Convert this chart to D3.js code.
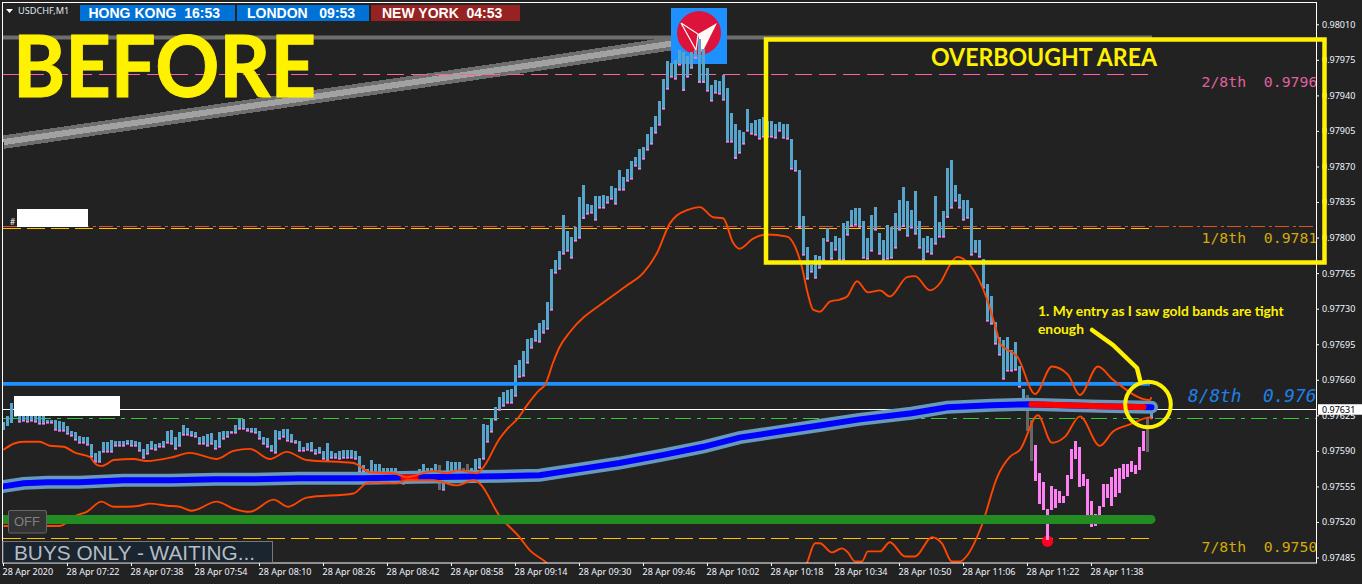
<!DOCTYPE html>
<html lang="en">
<head>
<meta charset="UTF-8" />
<title>USDCHF M1 - Before</title>
<script src="https://cdn.jsdelivr.net/npm/d3@7"></script>
<style>
  html, body { margin: 0; padding: 0; background: #222222; overflow: hidden; }
  svg { display: block; }
  .axis path { display: none; }
  .axis line { stroke: #ffffff; }
  .axis text { fill: #f0f4ff; font-family: "Noto Sans", sans-serif; font-size: 9px; }
</style>
</head>
<body>
<svg id="chart" width="1362" height="584"></svg>
<script>
// all prices below are in points above 0.97000 (631 = 0.97631), one bar per minute from 07:06
var barHigh = [
  618,624,637,632,630,630,630,628,628,627,627,620,620,620,619,618,614,610,609,605,604,604,597,588,590,599,599,601,600,600,
  600,601,601,600,599,592,597,600,597,598,600,610,611,604,609,615,613,610,609,604,605,607,608,601,609,610,610,610,615,621,
  621,613,613,613,610,604,603,596,611,610,612,612,607,601,600,594,598,599,592,594,590,598,590,588,590,591,591,591,590,585,
  576,572,581,577,577,573,573,573,573,567,563,561,566,569,572,577,573,573,577,576,561,580,579,579,579,573,577,573,582,583,
  616,615,621,633,643,648,650,651,675,679,688,700,701,709,716,719,737,769,778,787,822,806,801,810,840,852,833,832,841,841,
  842,841,851,849,867,860,868,875,879,887,889,902,909,920,934,956,974,972,975,985,983,979,983,985,996,986,967,950,955,954,
  960,947,923,912,906,904,927,913,916,917,919,915,915,912,914,912,912,897,876,867,821,791,773,783,782,800,809,796,802,800,
  814,816,827,829,829,816,800,822,830,805,798,812,810,824,837,850,836,827,846,816,800,802,800,841,815,826,869,876,852,843,
  837,837,829,798,798,779,754,742,717,702,699,702,689,697,674,651,645,620,596,568,559,533,555,552,550,546,566,592,600,594,
  567,562,541,528,536,557,557,564,572,573,577,577,580,576,594,610,623,628
];
var barLow = [
  610,614,617,623,618,619,618,619,618,616,616,617,617,611,610,610,607,605,601,598,598,596,584,579,579,589,589,589,595,595,
  595,597,595,595,590,583,587,592,591,594,594,598,597,592,595,606,606,605,604,597,597,595,597,592,594,602,604,608,608,612,
  612,610,609,608,602,597,594,590,588,602,604,600,599,598,590,590,591,590,587,588,582,580,583,583,582,583,583,583,582,569,
  569,568,569,568,568,568,568,568,568,561,556,557,559,563,569,569,569,569,567,551,551,568,569,569,569,569,569,569,569,573,
  582,599,609,620,630,634,637,637,644,663,664,677,691,698,697,706,710,729,765,769,784,787,780,797,800,819,823,824,817,829,
  829,834,838,833,847,847,856,858,870,868,877,886,892,903,911,927,946,958,956,970,945,958,967,977,953,953,944,934,942,941,
  935,894,894,878,883,892,905,902,901,897,899,899,899,898,905,898,897,868,866,810,783,759,766,760,770,778,797,779,788,778,
  778,803,811,812,810,780,779,787,807,784,778,779,780,790,807,811,802,809,804,790,778,786,784,794,801,801,820,829,836,829,
  817,819,783,786,781,750,718,715,695,684,661,669,669,670,653,640,610,580,561,537,531,502,531,533,538,539,545,562,582,555,
  555,526,515,516,526,534,543,535,544,548,562,564,569,567,571,590,589,622
];
var greyBars = [100, 101, 102, 109, 115, 116, 256, 257, 286];
var pinkFrom = 258, pinkTo = 285;

var upperIdx = [0,2.5,5,9,11.6,15,18,21.6,23,24.5,25.8,27.5,32.5,35.8,42.5,46.6,53.3,57.5,61.6,66.6,70.8,75.8,87.5,91.6,97.5,100.8,107.5,110.8,113.7,118.3,120,124,125.8,128.6,130.9,134,135.4,137.4,139,141.6,151,155.9,159.9,163.4,166.6,168.4,170.9,174.1,177.4,179.9,182.4,184,187.4,190.9,195.9,197.9,199.6,201,202.4,204.1,206.6,209.1,210.9,213.4,216.1,219.1,221.6,225.9,227.9,231.6,234.1,236.6,238.4,241.6,245.9,248.4,249.1,253.6,257.9,262.1,266.1,269.1,273.6,277.4,286.6,287];
var upperVal = [591,597,599,599,595,594,588,584,577,575,577,581,582,580,584,588,582,590,592,582,589,581,578,569,568,564,570,568,571,568,574,602,611,622,635,650,655,677,692,707,739,753,765,785,814,822,827,830,820,819,795,789,799,803,801,791,771,746,729,727,737,739,742,757,746,748,742,761,762,748,755,773,781,773,739,706,696,682,646,673,665,645,673,660,640,643];
var lowerIdx = [0,14,18,20.8,24.5,27.5,30.8,34,36.6,40.8,44,47,53.3,57.5,61.6,67.5,71.2,75.8,87.5,90.8,93.3,98.3,100.8,107.5,113.3,117.5,119,124,129,131.6,135.4,139,194,200.9,202.9,204.1,207.1,209.6,211.1,212.9,214.6,216.1,219.1,221.6,225.4,227.9,232.1,234.6,237.1,239.1,241.1,244.6,248.4,251.6,254.1,258.6,262.1,265.4,269.1,274.1,277.4,281.6,286.6,287];
var lowerVal = [516,516,526,530,540,535,535,536,538,536,535,531,540,533,530,542,535,544,548,558,559,558,561,561,556,561,558,526,505,492,481,468,443,480,499,499,490,494,490,481,481,491,491,500,486,486,505,499,481,481,488,517,564,584,591,625,598,604,624,595,609,616,623,621];

var emaIdx = [0,5,11,19,30,42,53,63,74,90,103,124,134,144,154,165,175,184,194,204,214,227,236,247,256,274,287];
var emaVal = [555,558,559,559,561,561,562,562,563,563,564,565,566,572,578,586,594,603,609,615,621,627,633,635,636,634,633];
var redRuns = [[100, 103], [257, 285]];

var timeIdx = [0,16,32,48,64,80,96,112,128,144,160,176,192,208,224,240,256,272];
var timeLabels = ["28 Apr 2020","28 Apr 07:22","28 Apr 07:38","28 Apr 07:54","28 Apr 08:10","28 Apr 08:26","28 Apr 08:42","28 Apr 08:58","28 Apr 09:14","28 Apr 09:30","28 Apr 09:46","28 Apr 10:02","28 Apr 10:18","28 Apr 10:34","28 Apr 10:50","28 Apr 11:06","28 Apr 11:22","28 Apr 11:38"];
var priceTicks = [1010,975,940,905,870,835,800,765,730,695,660,625,590,555,520,485];

var trendIdx = [0,134,167];
var trendVal = [894,971,991];

var levelNames = ["2/8","1/8","7/8","green","white"];
var levelVals = [961,809,504,622,631];
var lastPrice = 631;
var blueLevel = 656, greenLevel = 522.5, greyLevel = 997, signalDot = [261, 502];

var width = 1362, height = 584;
var plot = {left: 3, top: 3, right: 1316, bottom: 563};

var x = d3.scaleLinear().domain([0, 100]).range([3.5, 403.5]);
var y = d3.scaleLinear().domain([485, 1010]).range([557.5, 24.3]);
var fmt = function(n) { return (0.97 + n / 100000).toFixed(5); };

var svg = d3.select("#chart");
svg.append("clipPath").attr("id", "plotclip").append("rect")
  .attr("x", plot.left).attr("y", plot.top)
  .attr("width", plot.right - plot.left).attr("height", plot.bottom - plot.top);

var g = svg.append("g").attr("clip-path", "url(#plotclip)");

function hline(val, from, to, color, w, dash) {
  // one pixel lines snap to the pixel grid so they stay sharp
  var py = w <= 1 ? Math.floor(y(val)) + 0.5 : y(val);
  return g.append("line")
    .attr("x1", from).attr("x2", to)
    .attr("y1", py).attr("y2", py)
    .attr("stroke", color).attr("stroke-width", w)
    .attr("stroke-dasharray", dash || null);
}

// grey trend lines, behind the logo
var lineFn = d3.line().x(function(d) { return x(d[0]); }).y(function(d) { return y(d[1]); });
var trend = d3.zip(trendIdx, trendVal);
hline(greyLevel, 3, 1152, "#6e6e6e", 4);
g.append("path").attr("d", lineFn(trend)).attr("fill", "none").attr("stroke", "#6e6e6e").attr("stroke-width", 13.5).attr("shape-rendering", "crispEdges");
g.append("path").attr("d", lineFn(trend)).attr("fill", "none").attr("stroke", "#a2a2a2").attr("stroke-width", 6).attr("shape-rendering", "crispEdges");

// logo
var logo = g.append("g");
logo.append("rect").attr("x", 671).attr("y", 8).attr("width", 56).attr("height", 56).attr("fill", "#1e90ff");
logo.append("circle").attr("cx", 699).attr("cy", 33).attr("r", 22).attr("fill", "#dc143c");
logo.append("polygon").attr("points", "717,23 702,53 698,34").attr("fill", "#fff8f4");
logo.append("polyline").attr("points", "681,23 698,34 696,50 681,23").attr("fill", "none").attr("stroke", "#fff8f4").attr("stroke-width", 1.2);

// thin level lines
hline(levelVals[0], 3, 1149, "#ff5fa8", 1, "17,7");
hline(levelVals[1], 3, 1149, "#ffc000", 1, "18,6");
hline(810.5, 3, 1316, "#e0521c", 1, "14,4,3,3");
hline(levelVals[2], 3, 1149, "#ffc000", 1, "18,6");
hline(levelVals[3], 3, 1316, "#32cd32", 1, "16,6,4,6");
hline(levelVals[4], 3, 1316, "#ffffff", 1);

// signal dot sits behind the bars
g.append("circle").attr("cx", x(signalDot[0])).attr("cy", y(signalDot[1]) + 1).attr("r", 5.7).attr("fill", "#ff0022");

// bars
var barData = d3.range(barHigh.length).map(function(i) { return {i: i, hi: barHigh[i], lo: barLow[i]}; });
function barColor(d) {
  if (greyBars.indexOf(d.i) >= 0) return "#666666";
  if (d.i >= pinkFrom && d.i <= pinkTo) return "#ff80f4";
  return "#57a5cd";
}
g.selectAll("rect.bar").data(barData).enter().append("rect")
  .attr("class", "bar")
  .attr("x", function(d) { return x(d.i) - 1.5; })
  .attr("width", 3)
  .attr("y", function(d) { return Math.round(y(d.hi)); })
  .attr("height", function(d) { return Math.max(1, Math.round(y(d.lo) - y(d.hi))); })
  .attr("fill", barColor);
// small pink tip under the blue bars
g.selectAll("rect.tip").data(barData.filter(function(d) { return barColor(d) == "#57a5cd" && d.i > 3; })).enter().append("rect")
  .attr("class", "tip")
  .attr("x", function(d) { return x(d.i) - 1.5; })
  .attr("width", 3)
  .attr("y", function(d) { return Math.round(y(d.lo)) - 1; })
  .attr("height", 1.6)
  .attr("fill", "#ff80f4");

hline(blueLevel, 3, 1150, "#1e90ff", 3.6);

// moving average tube
var ema = d3.zip(emaIdx, emaVal);
var lineStep = d3.line().x(function(d) { return x(d[0]); }).y(function(d) { return y(d[1]); });
g.append("path").attr("d", lineStep(ema)).attr("fill", "none").attr("stroke", "#6699bb").attr("stroke-width", 13).attr("stroke-linecap", "round");
g.append("path").attr("d", lineStep(ema)).attr("fill", "none").attr("stroke", "#0000ff").attr("stroke-width", 6).attr("stroke-linecap", "round");

var emaAt = d3.scaleLinear().domain(emaIdx).range(emaVal);
redRuns.forEach(function(r) {
  var pts = d3.range(r[0], r[1] + 1).map(function(i) { return [i, emaAt(i)]; });
  g.append("path").attr("d", lineStep(pts)).attr("fill", "none").attr("stroke", "#ff0000").attr("stroke-width", 6).attr("stroke-linecap", "round");
});

// gold bands (drawn orange)
var band = d3.line().x(function(d) { return x(d[0]); }).y(function(d) { return y(d[1]); }).curve(d3.curveMonotoneX);
g.append("path").attr("d", band(d3.zip(upperIdx, upperVal))).attr("fill", "none").attr("stroke", "#ff4500").attr("stroke-width", 1.9);
g.append("path").attr("d", band(d3.zip(lowerIdx, lowerVal))).attr("fill", "none").attr("stroke", "#ff4500").attr("stroke-width", 1.9);

hline(greenLevel, 3, 1151, "#228b22", 9).attr("stroke-linecap", "round");

// pasted over boxes
g.append("rect").attr("x", 17).attr("y", 209).attr("width", 71).attr("height", 18).attr("fill", "#fff");
g.append("rect").attr("x", 14).attr("y", 396).attr("width", 106).attr("height", 20).attr("fill", "#fff");
g.append("text").attr("x", 10).attr("y", 225).attr("fill", "#fff").attr("font-family", "Noto Sans").attr("font-size", 8).text("#");

function monoLabel(px, py, txt, color, size, italic) {
  return g.append("text").attr("x", px).attr("y", py).attr("fill", color)
    .attr("font-family", "'DejaVu Sans Mono'").attr("font-size", size)
    .attr("font-style", italic ? "italic" : "normal")
    .attr("xml:space", "preserve").style("white-space", "pre").text(txt);
}
monoLabel(1201.5, 87, "2/8th  0.9796", "#e0609f", 14.8);
monoLabel(1201.5, 243, "1/8th  0.9781", "#d4a90c", 14.8);
monoLabel(1201.5, 552, "7/8th  0.9750", "#d4a90c", 14.8);
monoLabel(1188, 402, "8/8th  0.976", "#1e80e8", 17.8, true);

// frame and axes
var xAxis = d3.axisBottom(x).tickValues(timeIdx).tickSize(3).tickPadding(3)
  .tickFormat(function(d, i) { return timeLabels[i]; });
svg.append("g").attr("class", "axis").attr("transform", "translate(-0.5," + plot.bottom + ")").call(xAxis)
  .selectAll("text").attr("text-anchor", "start").attr("dx", "-1px");

var yAxis = d3.axisRight(y).tickValues(priceTicks).tickSize(3).tickPadding(3).tickFormat(fmt);
svg.append("g").attr("class", "axis").attr("transform", "translate(" + plot.right + ",0)").call(yAxis);

svg.append("rect").attr("x", 2.5).attr("y", 2.5).attr("width", 1314).attr("height", 560.5)
  .attr("fill", "none").attr("stroke", "#fff").attr("stroke-width", 1);

// last price tag
svg.append("rect").attr("x", 1318).attr("y", y(lastPrice) - 5).attr("width", 44).attr("height", 10.5).attr("fill", "#fff");
svg.append("text").attr("x", 1322).attr("y", y(lastPrice) + 3.5).attr("fill", "#000")
  .attr("font-family", "Noto Sans").attr("font-size", 9).text(fmt(lastPrice));

// header: symbol and session clocks
svg.append("polygon").attr("points", "6,9 13,9 9.5,13").attr("fill", "#fff");
svg.append("text").attr("x", 18).attr("y", 14).attr("fill", "#dfe6ee").attr("font-family", "Noto Sans").attr("font-size", 9.2).text("USDCHF,M1");

var clockNames = ["HONG KONG  16:53", "LONDON   09:53", "NEW YORK  04:53"];
var clockFill = ["#0071d6", "#0071d6", "#962222"];
var clockX = [80, 237, 371], clockW = [155, 132, 149], clockText = [88.5, 247, 382];
clockNames.forEach(function(n, i) {
  svg.append("rect").attr("x", clockX[i]).attr("y", 5).attr("width", clockW[i]).attr("height", 16).attr("fill", clockFill[i]);
  svg.append("text").attr("x", clockText[i]).attr("y", 18).attr("fill", "#fff")
    .attr("font-family", "Liberation Sans").attr("font-weight", "bold").attr("font-size", 14)
    .style("white-space", "pre").text(n);
});

// buttons bottom left
svg.append("rect").attr("x", 8.5).attr("y", 510.5).attr("width", 38).attr("height", 22.5).attr("rx", 1.5).attr("fill", "#333333").attr("stroke", "#666666");
svg.append("text").attr("x", 14).attr("y", 526).attr("fill", "#808080").attr("font-family", "Liberation Sans").attr("font-size", 13).text("OFF");
svg.append("rect").attr("x", 3).attr("y", 541.5).attr("width", 269.5).attr("height", 21).attr("fill", "#1a2530").attr("stroke", "#777777");
svg.append("text").attr("x", 14).attr("y", 560).attr("fill", "#b4bcc4").attr("font-family", "Liberation Sans").attr("font-size", 20.8).text("BUYS ONLY - WAITING...");

// annotations on top
var yellow = "#fff200";
svg.append("rect").attr("x", 766).attr("y", 39.5).attr("width", 558.5).attr("height", 223).attr("fill", "none").attr("stroke", yellow).attr("stroke-width", 4.5);
svg.append("circle").attr("cx", 1148).attr("cy", 404.5).attr("r", 22.8).attr("fill", "none").attr("stroke", yellow).attr("stroke-width", 4);
svg.append("polyline").attr("points", "1092,330 1113,345 1137,368 1140,380").attr("fill", "none").attr("stroke", yellow).attr("stroke-width", 4.5).attr("stroke-linecap", "round").attr("stroke-linejoin", "round");

svg.append("text").attr("x", 13).attr("y", 97).attr("fill", yellow).attr("stroke", yellow).attr("stroke-width", 1)
  .attr("font-family", "Lato").attr("font-weight", "bold").attr("font-size", 86)
  .attr("textLength", 303).attr("lengthAdjust", "spacingAndGlyphs").text("BEFORE");
svg.append("text").attr("x", 931).attr("y", 66).attr("fill", yellow).attr("font-family", "Lato").attr("font-weight", "bold").attr("font-size", 24)
  .attr("textLength", 226).attr("lengthAdjust", "spacingAndGlyphs").text("OVERBOUGHT AREA");
svg.append("text").attr("x", 1038).attr("y", 316).attr("fill", yellow).attr("font-family", "Lato").attr("font-weight", "bold").attr("font-size", 13.8).text("1. My entry as I saw gold bands are tight");
svg.append("text").attr("x", 1038).attr("y", 334).attr("fill", yellow).attr("font-family", "Lato").attr("font-weight", "bold").attr("font-size", 13.8).text("enough");
</script>
</body>
</html>
